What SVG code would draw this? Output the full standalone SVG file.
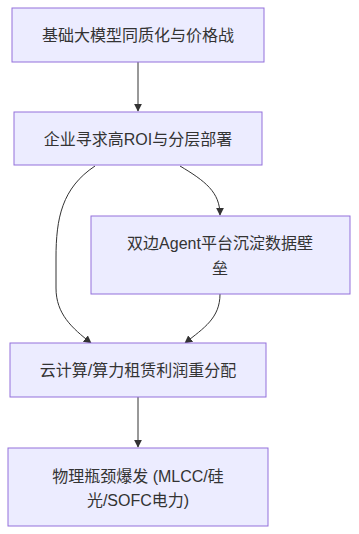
<svg xmlns="http://www.w3.org/2000/svg" width="359" height="534" viewBox="0 0 359 534">
<defs>
<style>
.node rect{fill:#ECECFF;stroke:#9370DB;stroke-width:1}
.node text{font-family:"Liberation Sans","Noto Sans CJK SC",sans-serif;font-size:16px;fill:#333;text-anchor:middle}
.edge{fill:none;stroke:#333;stroke-width:1}
</style>
<marker id="arr" viewBox="0 0 10 10" refX="9" refY="5" markerWidth="8" markerHeight="8" orient="auto" markerUnits="userSpaceOnUse">
<path d="M0,0 L10,5 L0,10 z" fill="#333"/>
</marker>
</defs>
<rect width="359" height="534" fill="#fff"/>
<g id="edges">
<path class="edge" d="M138,62 L138,111" marker-end="url(#arr)"/>
<path class="edge" d="M180,166 C205,181 220,192 220,215" marker-end="url(#arr)"/>
<path class="edge" d="M95,166 C62,188 56,218 56,258 L56,288 C56,314 72,328 91,343" marker-end="url(#arr)"/>
<path class="edge" d="M220,294 C220,318 204,328 185,343" marker-end="url(#arr)"/>
<path class="edge" d="M138,397 L138,447" marker-end="url(#arr)"/>
</g>
<g id="n1" class="node"><rect x="12" y="8" width="252" height="54"/><text x="138" y="41">基础大模型同质化与价格战</text></g>
<g id="n2" class="node"><rect x="14" y="112" width="248" height="53"/><text x="138" y="145">企业寻求高ROI与分层部署</text></g>
<g id="n3" class="node"><rect x="91" y="216" width="259" height="78"/><text x="220" y="249">双边Agent平台沉淀数据壁</text><text x="220" y="274">垒</text></g>
<g id="n4" class="node"><rect x="10" y="343" width="256" height="54"/><text x="138" y="376">云计算/算力租赁利润重分配</text></g>
<g id="n5" class="node"><rect x="8" y="448" width="260" height="78"/><text x="138" y="482">物理瓶颈爆发 (MLCC/硅</text><text x="138" y="506">光/SOFC电力)</text></g>
</svg>
